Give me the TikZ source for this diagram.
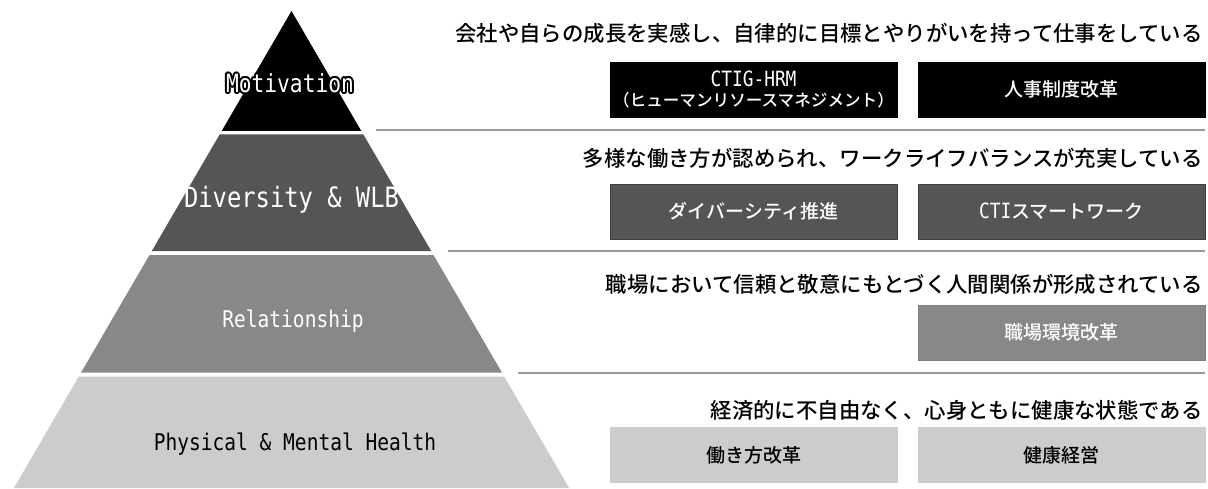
\documentclass[tikz,border=0pt]{standalone}
\usepackage{fontspec}
\usepackage{contour}
\setmainfont{Noto Sans CJK JP}[UprightFont=* Medium]
\newfontfamily\latinmono[FakeStretch=0.85]{DejaVu Sans Mono}
\usetikzlibrary{positioning}
\contourlength{0.9pt}
\definecolor{tierB}{HTML}{555555}
\definecolor{tierC}{HTML}{888888}
\definecolor{tierD}{HTML}{CCCCCC}
\definecolor{rulegray}{HTML}{999999}
\tikzstyle{tier} = [inner sep=0pt, font=\latinmono\fontsize{11.5}{12}\selectfont]
\tikzstyle{goal} = [anchor=east, inner sep=0pt, font=\fontsize{10.7}{12}\selectfont]
\tikzstyle{measure} = [draw, rectangle, minimum width=143.5pt, minimum height=27.5pt, inner sep=0pt, outer sep=0pt, align=center, font=\fontsize{9.5}{11}\selectfont]

\begin{document}
\begin{tikzpicture}[x=0.5pt, y=0.5pt, node distance=10.5pt]
    \useasboundingbox (0,0) rectangle (1208,488);
    % pyramid tiers
    \fill (291.5,477) -- (361.3,357) -- (221.7,357) -- cycle;
    \fill [tierB] (219.6,353.5) -- (363.4,353.5) -- (431.2,237) -- (151.8,237) -- cycle;
    \fill [tierC] (149.5,233) -- (433.5,233) -- (501.9,115.5) -- (81.1,115.5) -- cycle;
    \fill [tierD] (78.8,111.5) -- (504.2,111.5) -- (569.1,0) -- (13.9,0) -- cycle;
    \node [tier, text=white, font=\latinmono\fontsize{12.5}{13}\selectfont] (motivation) at (290,404) {\contour{black}{Motivation}};
    \node [tier, text=white, font=\latinmono\fontsize{14}{15}\selectfont] (diversity) at (291.5,288) {Diversity \& WLB};
    \node [tier, text=white] (relation) at (293,167) {Relationship};
    \node [tier] (health) at (295,44) {Physical \& Mental Health};
    % separators
    \foreach \xs/\yy in {376/358, 448/237, 518/115}
        \draw [rulegray, line width=1pt] (\xs,\yy) -- (1205,\yy);
    % goals and measures
    \node [goal] (goalA) at (1203,455) {会社や自らの成長を実感し、自律的に目標とやりがいを持って仕事をしている};
    \node [measure, fill=black, text=white] (hrm) at (753.5,398.5) {{\latinmono\fontsize{10.5}{11}\selectfont CTIG-HRM}\\[-1pt]{\fontsize{8.3}{9}\selectfont （ヒューマンリソースマネジメント）}};
    \node [measure, fill=black, text=white, right=of hrm] (jinji) {人事制度改革};
    \node [goal] (goalB) at (1203,330) {多様な働き方が認められ、ワークライフバランスが充実している};
    \node [measure, fill=tierB, draw=black!75, text=white] (dei) at (753.5,276.5) {ダイバーシティ推進};
    \node [measure, fill=tierB, draw=black!75, text=white, right=of dei] (smart) {{\latinmono\fontsize{10.5}{11}\selectfont CTI}スマートワーク};
    \node [goal] (goalC) at (1203,204) {職場において信頼と敬意にもとづく人間関係が形成されている};
    \node [measure, fill=tierC, draw=black!50, text=white] (office) at (1061.5,155.5) {職場環境改革};
    \node [goal] (goalD) at (1203,78) {経済的に不自由なく、心身ともに健康な状態である};
    \node [measure, fill=tierD, draw=tierD] (workstyle) at (753.5,33) {働き方改革};
    \node [measure, fill=tierD, draw=tierD, right=of workstyle] (kenko) {健康経営};
\end{tikzpicture}
\end{document}
